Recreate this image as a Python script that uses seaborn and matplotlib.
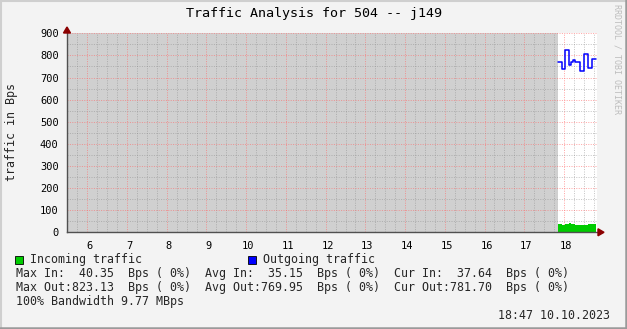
import numpy as np
import pandas as pd
import matplotlib
matplotlib.use("Agg")
import matplotlib.pyplot as plt
import matplotlib.transforms as mtrans
from matplotlib.patches import Rectangle, Polygon
from matplotlib.ticker import MultipleLocator
import seaborn as sns

# ---------------- data ----------------
step_times = [17.85, 17.95, 18.03, 18.13, 18.18, 18.23, 18.28, 18.40, 18.50, 18.60, 18.70, 18.80]
outgoing = [769, 740, 823, 755, 770, 778, 770, 728, 805, 742, 781.7]
incoming = [36, 35, 36, 40, 38, 37, 34, 35, 34, 36, 37.6]
hour_ticks = [6, 7, 8, 9, 10, 11, 12, 13, 14, 15, 16, 17, 18]
y_ticks = [0, 100, 200, 300, 400, 500, 600, 700, 800, 900]
x_start, x_end = 5.49, 18.83
unknown_end = 17.85

title = "Traffic Analysis for 504 -- j149"
ylabel = "traffic in Bps"
legend_labels = ["Incoming traffic", "Outgoing traffic"]
stat_lines = [
    "Max In:  40.35  Bps ( 0%)  Avg In:  35.15  Bps ( 0%)  Cur In:  37.64  Bps ( 0%)",
    "Max Out:823.13  Bps ( 0%)  Avg Out:769.95  Bps ( 0%)  Cur Out:781.70  Bps ( 0%)",
    "100% Bandwidth 9.77 MBps",
]
timestamp = "18:47 10.10.2023"
watermark = "RRDTOOL / TOBI OETIKER"

# ---------------- style ----------------
sns.set_style("white")
plt.rcParams["font.family"] = ["DejaVu Sans Mono"]

W, H = 627, 329
BG = "#F3F3F3"
fig = plt.figure(figsize=(W / 100, H / 100), dpi=100, facecolor=BG)


def fx(x):
    return x / W


def fy(y):
    return 1 - y / H


L, R, T, B = 67, 597, 33.3, 232.3
ax = fig.add_axes([fx(L), fy(B), fx(R) - fx(L), fy(T) - fy(B)])
ax.set_facecolor("white")

ax.axvspan(x_start, unknown_end, color="#D0D0D0", lw=0, zorder=0)

df = pd.DataFrame({
    "time": step_times,
    "out": outgoing + [outgoing[-1]],
    "inc": incoming + [incoming[-1]],
})

ax.fill_between(df["time"], 0, df["inc"], step="post", color="#00CC00", lw=0, zorder=3)
sns.lineplot(data=df, x="time", y="out", drawstyle="steps-post", color="#0000FF",
             lw=1.1, ax=ax, zorder=4)

ax.set_xlim(x_start, x_end)
ax.set_ylim(0, 900)
ax.set_xticks(hour_ticks)
ax.set_xticklabels([str(h) for h in hour_ticks])
ax.set_yticks(y_ticks)
ax.set_yticklabels([str(v) for v in y_ticks])
ax.xaxis.set_minor_locator(MultipleLocator(0.25))
ax.yaxis.set_minor_locator(MultipleLocator(50))
ax.set_xlabel("")
ax.set_ylabel("")

ax.grid(which="minor", color="#8C8C8C", alpha=0.5, lw=0.72, linestyle=(0, (1, 1.4)), zorder=2)
ax.grid(which="major", color="#FF6A6A", alpha=0.6, lw=0.72, linestyle=(0, (1, 1.4)), zorder=2)
ax.set_axisbelow(False)

ax.tick_params(axis="both", which="major", length=3, width=0.8, color="#606060",
               labelsize=7.5, labelcolor="#000000", pad=3, direction="out")
ax.tick_params(axis="both", which="minor", length=2, width=0.6, color="#808080", direction="out")

offset = mtrans.ScaledTranslation(0.02, 0, fig.dpi_scale_trans)
for lab in ax.get_xticklabels():
    lab.set_transform(lab.get_transform() + offset)

for s in ["top", "right"]:
    ax.spines[s].set_visible(False)
for s in ["left", "bottom"]:
    ax.spines[s].set_color("#505050")
    ax.spines[s].set_linewidth(1.0)
    ax.spines[s].set_zorder(5)

# arrows
fig.add_artist(Polygon([[fx(63.5), fy(33)], [fx(70.5), fy(33)], [fx(67), fy(27)]],
                       closed=True, color="#8B0000", transform=fig.transFigure))
fig.add_artist(Polygon([[fx(598), fy(228.8)], [fx(598), fy(235.8)], [fx(604), fy(232.3)]],
                       closed=True, color="#8B0000", transform=fig.transFigure))

# texts
fig.text(fx(313.5), fy(14), title, ha="center", va="center", fontsize=9.6, color="#000000")
fig.text(fx(11.5), fy(132), ylabel, ha="center", va="center", rotation=90, fontsize=8.4)
fig.text(fx(617), fy(4), watermark, ha="center", va="top", rotation=270,
         fontsize=6, color="#BDBDBD")

fig.patches.append(Rectangle((fx(15), fy(263.5)), fx(8), 8 / H, transform=fig.transFigure,
                             facecolor="#00CC00", edgecolor="#000000", lw=0.6))
fig.patches.append(Rectangle((fx(248), fy(263.5)), fx(8), 8 / H, transform=fig.transFigure,
                             facecolor="#0000FF", edgecolor="#000000", lw=0.6))
fig.text(fx(30), fy(259.5), legend_labels[0], ha="left", va="center", fontsize=8.4)
fig.text(fx(263), fy(259.5), legend_labels[1], ha="left", va="center", fontsize=8.4)

for i, line in enumerate(stat_lines):
    fig.text(fx(16), fy(273.5 + 14 * i), line, ha="left", va="center", fontsize=8.4)
fig.text(fx(610), fy(315.5), timestamp, ha="right", va="center", fontsize=8.4)

# 3D frame
fig.add_artist(plt.Line2D([0, 1], [fy(1), fy(1)], color="#CFCFCF", lw=1.5, transform=fig.transFigure))
fig.add_artist(plt.Line2D([fx(1), fx(1)], [0, 1], color="#CFCFCF", lw=1.5, transform=fig.transFigure))
fig.add_artist(plt.Line2D([0, 1], [fy(328), fy(328)], color="#9A9A9A", lw=1.8, transform=fig.transFigure))
fig.add_artist(plt.Line2D([fx(626), fx(626)], [0, 1], color="#9A9A9A", lw=1.8, transform=fig.transFigure))

fig.savefig("out.png", dpi=100, facecolor=BG)
